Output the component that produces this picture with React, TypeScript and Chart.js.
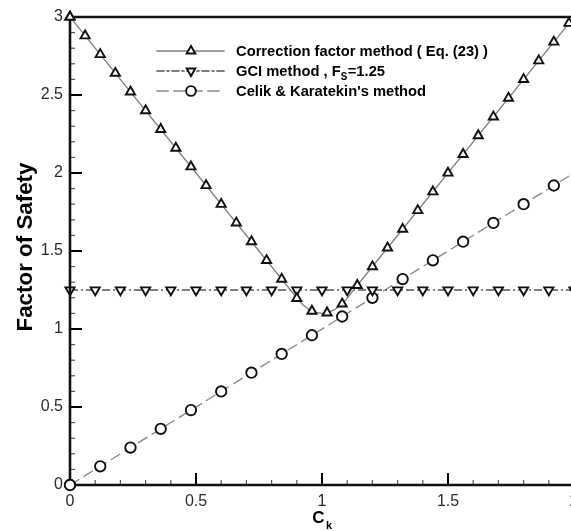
import React, { useEffect, useRef } from "react";
import { Chart, registerables } from "chart.js";

Chart.register(...registerables);

// ---------- data ----------
const X_MIN = 0;
const X_MAX = 2;
const Y_MIN = 0;
const Y_MAX = 3;
const MAJOR_STEP = 0.5;
const MINOR_STEP = 0.1;

// Correction factor method (Eq. 23) - markers
const cfMarkerX = [0, 0.06, 0.12, 0.18, 0.24, 0.3, 0.36, 0.42, 0.48, 0.54, 0.6, 0.66, 0.72, 0.78, 0.84, 0.9, 0.96, 1.02, 1.08, 1.14, 1.2, 1.26, 1.32, 1.38, 1.44, 1.5, 1.56, 1.62, 1.68, 1.74, 1.8, 1.86, 1.92, 1.98];
const cfMarkerY = [3.0, 2.88, 2.76, 2.64, 2.52, 2.4, 2.28, 2.16, 2.04, 1.92, 1.8, 1.68, 1.56, 1.44, 1.32, 1.196, 1.115, 1.104, 1.161, 1.28, 1.4, 1.52, 1.64, 1.76, 1.88, 2.0, 2.12, 2.24, 2.36, 2.48, 2.6, 2.72, 2.84, 2.96];
// Correction factor method - curve
const cfLineX = [0, 0.875, 0.9, 0.925, 0.95, 0.975, 1.0, 1.025, 1.05, 1.075, 1.1, 1.125, 2.0];
const cfLineY = [3.0, 1.25, 1.196, 1.154, 1.124, 1.106, 1.1, 1.106, 1.124, 1.154, 1.196, 1.25, 3.0];

// GCI method, Fs = 1.25
const gciMarkerX = [0, 0.1, 0.2, 0.3, 0.4, 0.5, 0.6, 0.7, 0.8, 0.9, 1.0, 1.1, 1.2, 1.3, 1.4, 1.5, 1.6, 1.7, 1.8, 1.9, 2.0];
const gciMarkerY = [1.25, 1.25, 1.25, 1.25, 1.25, 1.25, 1.25, 1.25, 1.25, 1.25, 1.25, 1.25, 1.25, 1.25, 1.25, 1.25, 1.25, 1.25, 1.25, 1.25, 1.25];
const gciLineX = [0, 2.0];
const gciLineY = [1.25, 1.25];

// Celik & Karatekin's method
const ckMarkerX = [0, 0.12, 0.24, 0.36, 0.48, 0.6, 0.72, 0.84, 0.96, 1.08, 1.2, 1.32, 1.44, 1.56, 1.68, 1.8, 1.92];
const ckMarkerY = [0, 0.12, 0.24, 0.36, 0.48, 0.6, 0.72, 0.84, 0.96, 1.08, 1.2, 1.32, 1.44, 1.56, 1.68, 1.8, 1.92];
const ckLineX = [0, 2.0];
const ckLineY = [0, 2.0];

// texts
const xTitle = "C";
const xTitleSub = "k";
const yTitle = "Factor of Safety";
const legendRow1 = [["Correction factor method ( Eq. (23) )", false]];
const legendRow2 = [["GCI method , F", false], ["S", true], ["=1.25", false]];
const legendRow3 = [["Celik & Karatekin's method", false]];

const FONT = '"Liberation Sans", Arial, Helvetica, sans-serif';
const MARKER_BORDER = 1.9;
const TRI_R = 5.3;
const CIRC_R = 5.2;

const pts = (xs: number[], ys: number[]) => xs.map((x, i) => ({ x, y: ys[i] }));

function drawMarker(ctx: CanvasRenderingContext2D, style: string, x: number, y: number, r: number) {
  ctx.beginPath();
  if (style === "circle") {
    ctx.arc(x, y, r, 0, Math.PI * 2);
  } else {
    const down = style === "down";
    let rad = down ? Math.PI : 0;
    for (let k = 0; k < 3; k++) {
      const px = x + Math.sin(rad) * r;
      const py = y - Math.cos(rad) * r;
      if (k === 0) ctx.moveTo(px, py);
      else ctx.lineTo(px, py);
      rad += (2 * Math.PI) / 3;
    }
    ctx.closePath();
  }
  ctx.fillStyle = "#fff";
  ctx.fill();
  ctx.lineWidth = MARKER_BORDER;
  ctx.strokeStyle = "#111";
  ctx.stroke();
}

const framePlugin = {
  id: "frame",
  afterDatasetsDraw(chart: any) {
    const { ctx, chartArea: a, scales } = chart;
    const xs = scales.x;
    const ys = scales.y;
    ctx.save();

    // minor / major ticks (inward)
    const per = Math.round(MAJOR_STEP / MINOR_STEP);
    const nx = Math.round((X_MAX - X_MIN) / MINOR_STEP);
    for (let i = 0; i <= nx; i++) {
      const v = X_MIN + i * MINOR_STEP;
      const px = xs.getPixelForValue(v);
      const major = i % per === 0;
      ctx.beginPath();
      ctx.strokeStyle = major ? "#000" : "#555";
      ctx.lineWidth = major ? 2 : 1.2;
      ctx.moveTo(px, a.bottom);
      ctx.lineTo(px, a.bottom - (major ? 12 : 5));
      ctx.stroke();
    }
    const ny = Math.round((Y_MAX - Y_MIN) / MINOR_STEP);
    for (let i = 0; i <= ny; i++) {
      const v = Y_MIN + i * MINOR_STEP;
      const py = ys.getPixelForValue(v);
      const major = i % per === 0;
      ctx.beginPath();
      ctx.strokeStyle = major ? "#000" : "#555";
      ctx.lineWidth = major ? 2 : 1.2;
      ctx.moveTo(a.left, py);
      ctx.lineTo(a.left + (major ? 12 : 5), py);
      ctx.stroke();
    }

    // frame
    ctx.lineCap = "square";
    ctx.strokeStyle = "#111";
    ctx.lineWidth = 2.6;
    ctx.beginPath();
    ctx.moveTo(a.left, a.top);
    ctx.lineTo(a.right, a.top);
    ctx.lineTo(a.right, a.bottom);
    ctx.lineTo(a.left, a.bottom);
    ctx.closePath();
    ctx.stroke();

    // re-draw the corner markers above the frame
    const meta0 = chart.getDatasetMeta(0);
    if (meta0 && meta0.data[0]) {
      const p = meta0.data[0];
      drawMarker(ctx, "up", p.x, p.y, TRI_R);
    }
    const meta2 = chart.getDatasetMeta(2);
    if (meta2 && meta2.data[0]) {
      const p = meta2.data[0];
      drawMarker(ctx, "circle", p.x, p.y, CIRC_R);
    }

    // axis titles
    ctx.fillStyle = "#000";
    ctx.textBaseline = "alphabetic";
    ctx.textAlign = "left";
    ctx.font = `bold 17px ${FONT}`;
    const cx = xs.getPixelForValue((X_MIN + X_MAX) / 2);
    const wC = ctx.measureText(xTitle).width;
    ctx.font = `bold 11px ${FONT}`;
    const wk = ctx.measureText(xTitleSub).width;
    const startX = cx - (wC + wk + 1) / 2;
    ctx.font = `bold 17px ${FONT}`;
    ctx.fillText(xTitle, startX, 523);
    ctx.font = `bold 11px ${FONT}`;
    ctx.fillText(xTitleSub, startX + wC + 1.5, 529);

    ctx.save();
    ctx.font = `bold 22px ${FONT}`;
    const wy = ctx.measureText(yTitle).width;
    const targetY = 169;
    ctx.translate(32, 247);
    ctx.rotate(-Math.PI / 2);
    ctx.scale(targetY / wy, 1);
    ctx.textAlign = "center";
    ctx.fillText(yTitle, 0, 0);
    ctx.restore();

    // legend
    const rows: any[] = [
      { y: 51, dash: [], color: "#808080", marker: "up", parts: legendRow1 },
      { y: 71, dash: [7, 3, 2, 3], color: "#555", marker: "down", parts: legendRow2 },
      { y: 91, dash: [11, 6], color: "#888", marker: "circle", parts: legendRow3 },
    ];
    ctx.font = `bold 15px ${FONT}`;
    const w1 = ctx.measureText(legendRow1[0][0] as string).width;
    const sx = 252 / w1;
    rows.forEach((r) => {
      ctx.save();
      ctx.beginPath();
      ctx.setLineDash(r.dash);
      ctx.strokeStyle = r.color;
      ctx.lineWidth = 1.3;
      ctx.moveTo(157, r.y);
      ctx.lineTo(224, r.y);
      ctx.stroke();
      ctx.setLineDash([]);
      drawMarker(ctx, r.marker, 191, r.y, r.marker === "circle" ? CIRC_R - 0.3 : TRI_R - 0.3);
      ctx.restore();

      ctx.save();
      ctx.translate(236, r.y + 5);
      ctx.scale(sx, 1);
      ctx.fillStyle = "#000";
      ctx.textAlign = "left";
      let xx = 0;
      r.parts.forEach((p: any) => {
        const [txt, sub] = p;
        ctx.font = sub ? `bold 10px ${FONT}` : `bold 15px ${FONT}`;
        ctx.fillText(txt, xx, sub ? 4 : 0);
        xx += ctx.measureText(txt).width + (sub ? 0.5 : 0);
      });
      ctx.restore();
    });

    ctx.restore();
  },
};

export default function App() {
  const ref = useRef<HTMLCanvasElement | null>(null);

  useEffect(() => {
    if (!ref.current) return;
    const markerCommon = {
      showLine: false,
      pointRadius: TRI_R,
      pointBorderWidth: MARKER_BORDER,
      pointBorderColor: "#111",
      pointBackgroundColor: "#fff",
      clip: false,
      order: 0,
    };
    const chart = new Chart(ref.current, {
      type: "scatter",
      data: {
        datasets: [
          {
            ...markerCommon,
            label: "Correction factor method ( Eq. (23) )",
            data: pts(cfMarkerX, cfMarkerY),
            pointStyle: "triangle",
          },
          {
            ...markerCommon,
            label: "GCI method , Fs=1.25",
            data: pts(gciMarkerX, gciMarkerY),
            pointStyle: "triangle",
            rotation: 180,
          },
          {
            ...markerCommon,
            label: "Celik & Karatekin's method",
            data: pts(ckMarkerX, ckMarkerY),
            pointStyle: "circle",
            pointRadius: CIRC_R,
          },
          {
            label: "cf line",
            data: pts(cfLineX, cfLineY),
            showLine: true,
            pointRadius: 0,
            borderColor: "#808080",
            borderWidth: 1.3,
            tension: 0,
            order: 1,
          },
          {
            label: "gci line",
            data: pts(gciLineX, gciLineY),
            showLine: true,
            pointRadius: 0,
            borderColor: "#555",
            borderWidth: 1.3,
            borderDash: [8, 3, 2, 3],
            order: 1,
          },
          {
            label: "ck line",
            data: pts(ckLineX, ckLineY),
            showLine: true,
            pointRadius: 0,
            borderColor: "#888",
            borderWidth: 1.3,
            borderDash: [11, 5],
            order: 1,
          },
        ],
      } as any,
      options: {
        responsive: false,
        maintainAspectRatio: false,
        animation: false,
        layout: { padding: { top: 17, right: 26, left: 0, bottom: 0 } },
        plugins: {
          legend: { display: false },
          tooltip: { enabled: false },
          title: { display: false },
        },
        scales: {
          x: {
            type: "linear",
            min: X_MIN,
            max: X_MAX,
            afterFit: (s: any) => {
              s.height = 46;
            },
            grid: { display: false, drawTicks: false },
            border: { display: false },
            ticks: {
              stepSize: MAJOR_STEP,
              padding: 7,
              autoSkip: false,
              maxRotation: 0,
              color: "#2a2a2a",
              font: { family: FONT, size: 16 },
              callback: (v: any) => String(Number(v)),
            },
          },
          y: {
            type: "linear",
            min: Y_MIN,
            max: Y_MAX,
            afterFit: (s: any) => {
              s.width = 70;
            },
            grid: { display: false, drawTicks: false },
            border: { display: false },
            ticks: {
              stepSize: MAJOR_STEP,
              padding: 7,
              autoSkip: false,
              color: "#2a2a2a",
              font: { family: FONT, size: 16 },
              callback: (v: any) => String(Number(v)),
            },
          },
        },
      } as any,
      plugins: [framePlugin],
    });
    return () => chart.destroy();
  }, []);

  return (
    <div
      style={{
        position: "absolute",
        left: 0,
        top: 0,
        width: 571,
        height: 531,
        overflow: "hidden",
        background: "#fff",
      }}
    >
      <canvas ref={ref} width={600} height={531} style={{ display: "block" }} />
    </div>
  );
}
